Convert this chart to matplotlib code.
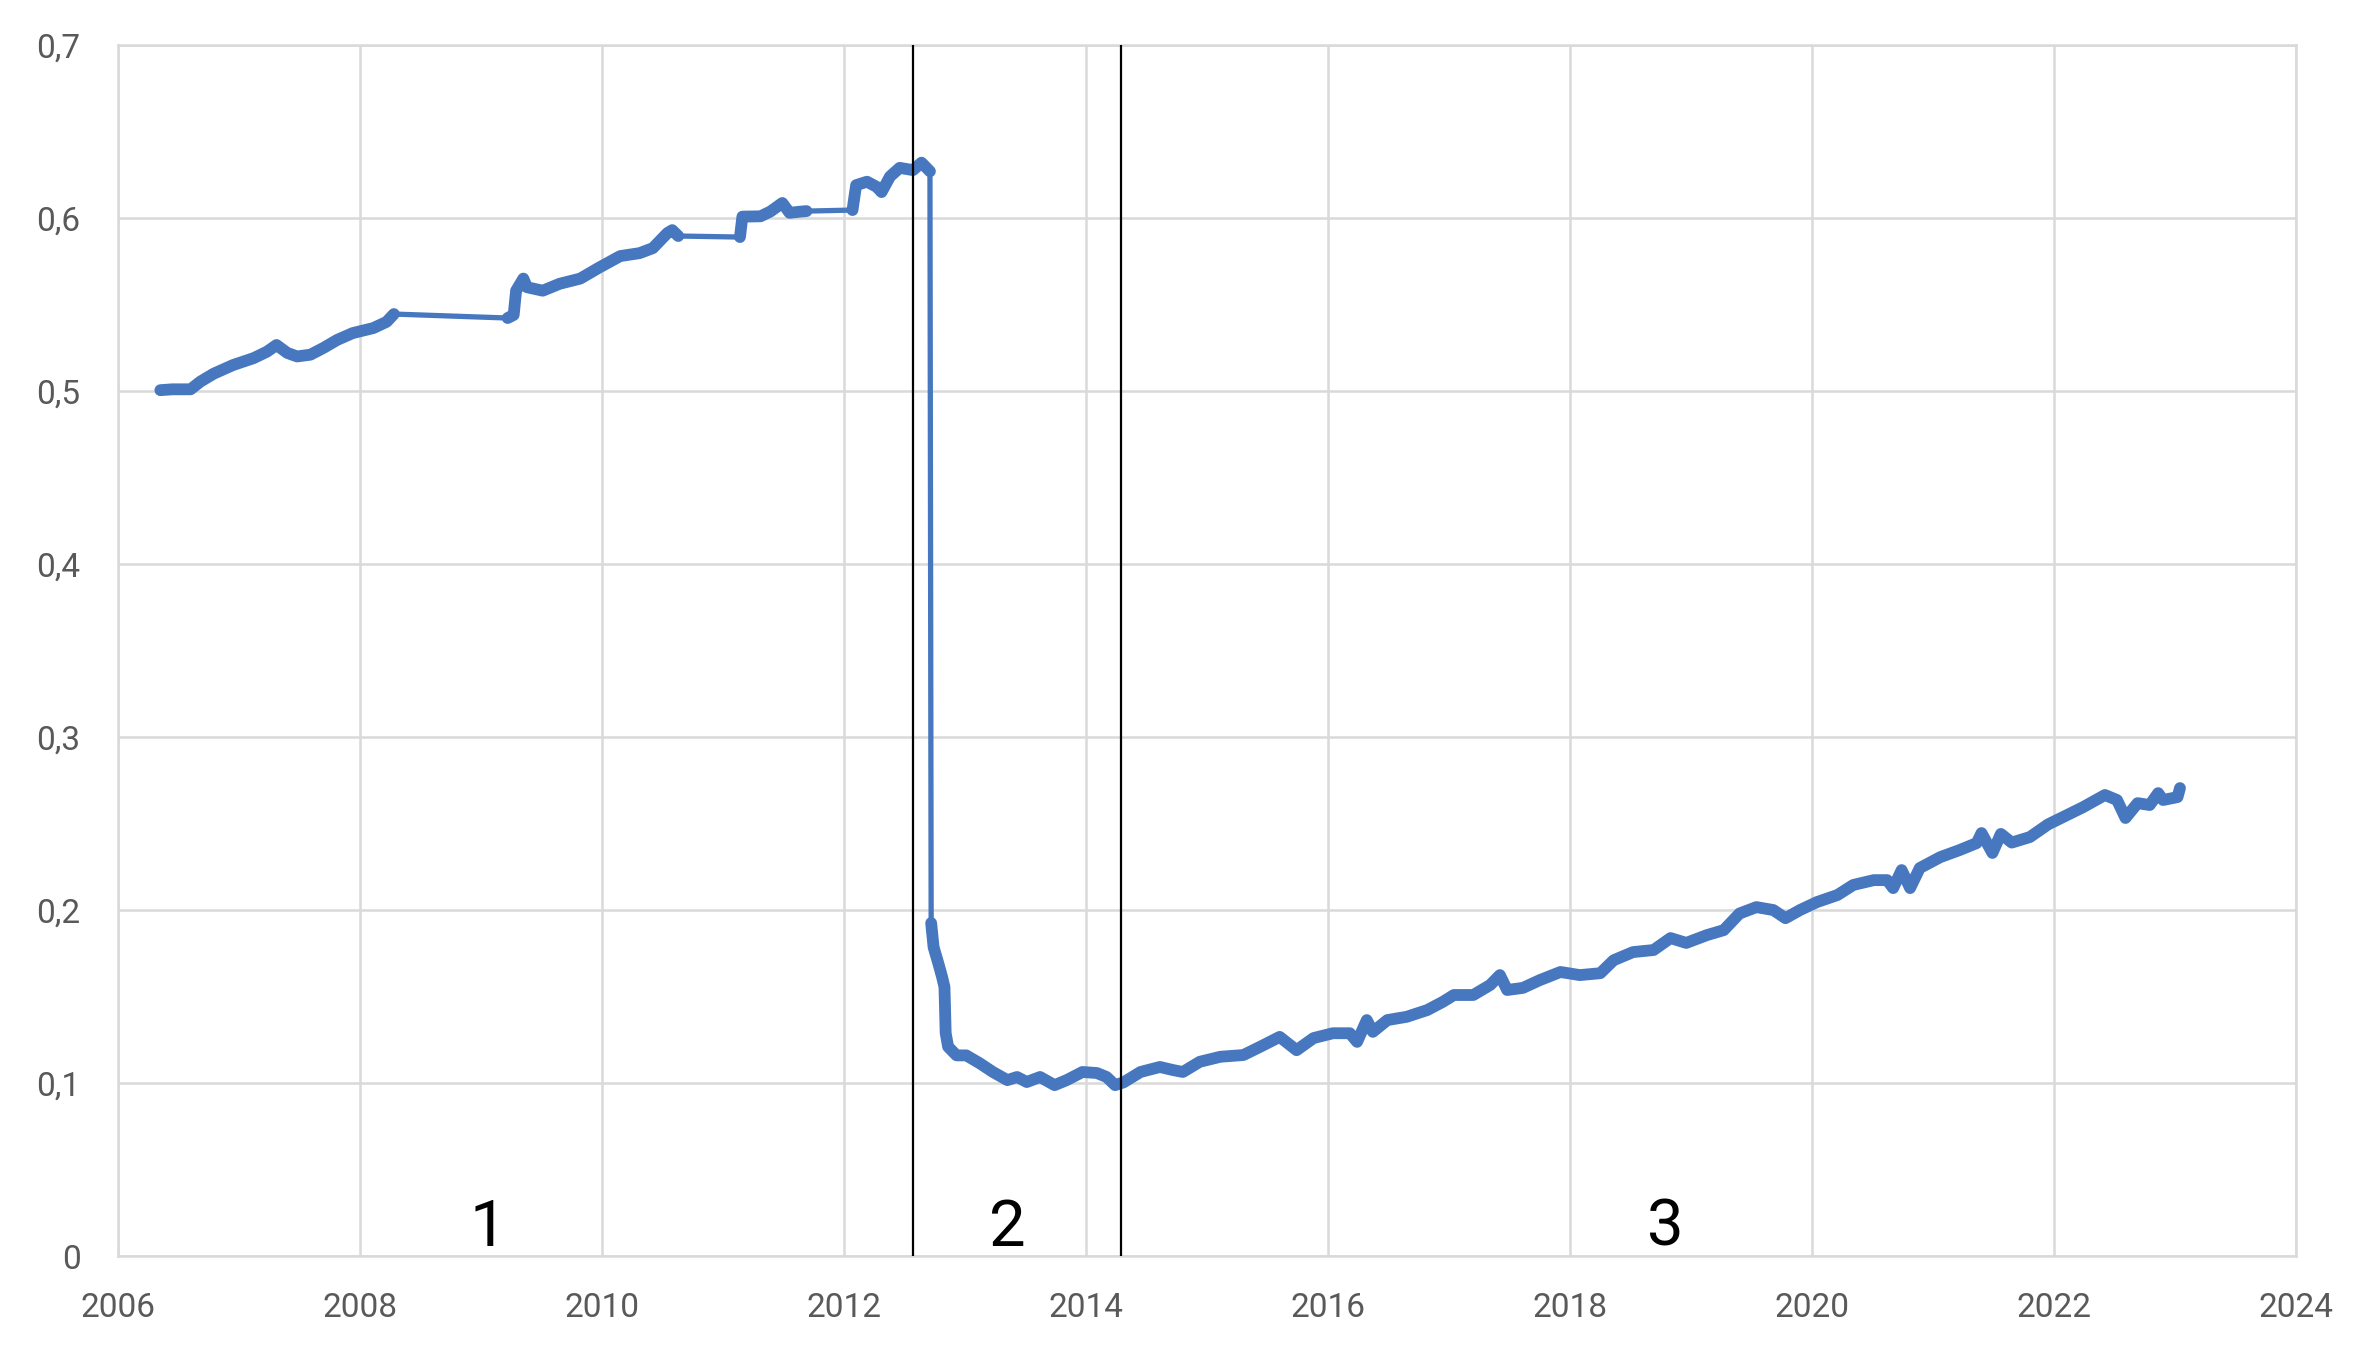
import numpy as np
import matplotlib.pyplot as plt

# ratio series (decimal years)
years = [
    2006.35, 2006.45, 2006.60, 2006.68, 2006.79, 2006.95, 2007.12, 2007.23,
    2007.31, 2007.40, 2007.48, 2007.59, 2007.70, 2007.81, 2007.94, 2008.11,
    2008.22, 2008.28, 2009.22, 2009.27, 2009.29, 2009.35, 2009.38, 2009.51,
    2009.65, 2009.82, 2009.98, 2010.15, 2010.31, 2010.42, 2010.54, 2010.58,
    2010.63, 2011.14, 2011.16, 2011.31, 2011.39, 2011.49, 2011.55, 2011.64,
    2011.69, 2012.07, 2012.10, 2012.19, 2012.27, 2012.31, 2012.38, 2012.46,
    2012.57, 2012.64, 2012.71, 2012.72, 2012.74, 2012.78, 2012.81, 2012.83,
    2012.84, 2012.86, 2012.93, 2013.01, 2013.12, 2013.23, 2013.35, 2013.43,
    2013.51, 2013.62, 2013.74, 2013.84, 2013.97, 2014.09, 2014.17, 2014.24,
    2014.31, 2014.45, 2014.61, 2014.72, 2014.80, 2014.94, 2015.11, 2015.30,
    2015.44, 2015.60, 2015.74, 2015.88, 2016.04, 2016.18, 2016.24, 2016.32,
    2016.37, 2016.49, 2016.65, 2016.82, 2016.95, 2017.04, 2017.20, 2017.34,
    2017.42, 2017.48, 2017.61, 2017.75, 2017.92, 2018.08, 2018.25, 2018.36,
    2018.52, 2018.69, 2018.83, 2018.96, 2019.13, 2019.27, 2019.40, 2019.54,
    2019.68, 2019.78, 2019.90, 2020.04, 2020.21, 2020.34, 2020.51, 2020.62,
    2020.67, 2020.74, 2020.81, 2020.89, 2021.06, 2021.22, 2021.36, 2021.40,
    2021.49, 2021.56, 2021.65, 2021.80, 2021.95, 2022.11, 2022.24, 2022.42,
    2022.52, 2022.59, 2022.69, 2022.79, 2022.86, 2022.90, 2023.02, 2023.04,
]
values = [
    0.5005, 0.5010, 0.5010, 0.5054, 0.5100, 0.5150, 0.5190, 0.5227,
    0.5266, 0.5220, 0.5200, 0.5210, 0.5250, 0.5295, 0.5335, 0.5364,
    0.5400, 0.5445, 0.5422, 0.5440, 0.5580, 0.5650, 0.5600, 0.5580,
    0.5620, 0.5650, 0.5715, 0.5780, 0.5797, 0.5826, 0.5913, 0.5930,
    0.5896, 0.5890, 0.6008, 0.6010, 0.6037, 0.6087, 0.6030, 0.6037,
    0.6040, 0.6046, 0.6190, 0.6210, 0.6180, 0.6150, 0.6240, 0.6290,
    0.6277, 0.6320, 0.6270, 0.1925, 0.1786, 0.1690, 0.1614, 0.1555,
    0.1289, 0.1210, 0.1160, 0.1160, 0.1115, 0.1064, 0.1017, 0.1035,
    0.1006, 0.1035, 0.0988, 0.1017, 0.1064, 0.1058, 0.1035, 0.0988,
    0.1004, 0.1064, 0.1093, 0.1075, 0.1064, 0.1123, 0.1152, 0.1162,
    0.1210, 0.1267, 0.1190, 0.1260, 0.1288, 0.1288, 0.1238, 0.1364,
    0.1296, 0.1364, 0.1383, 0.1422, 0.1470, 0.1509, 0.1509, 0.1567,
    0.1624, 0.1538, 0.1550, 0.1595, 0.1642, 0.1624, 0.1635, 0.1710,
    0.1757, 0.1769, 0.1838, 0.1810, 0.1855, 0.1884, 0.1980, 0.2017,
    0.2000, 0.1953, 0.2000, 0.2046, 0.2087, 0.2145, 0.2173, 0.2173,
    0.2127, 0.2231, 0.2127, 0.2243, 0.2306, 0.2347, 0.2387, 0.2445,
    0.2330, 0.2440, 0.2390, 0.2422, 0.2495, 0.2550, 0.2595, 0.2665,
    0.2636, 0.2532, 0.2618, 0.2607, 0.2676, 0.2636, 0.2653, 0.2705,
]

period_breaks = [2012.57, 2014.29]
period_labels = ["1", "2", "3"]
period_label_x = [2009.06, 2013.35, 2018.79]

yticks = [0, 0.1, 0.2, 0.3, 0.4, 0.5, 0.6, 0.7]
xticks = list(range(2006, 2025, 2))

blue = "#4677bf"
grid_c = "#d9d9d9"

fig = plt.figure(figsize=(23.55, 13.48), dpi=100)
ax = fig.add_axes([0.0501, 0.0682, 0.9249, 0.8984])

x = np.array(years)
y = np.array(values)

# flat gaps and the big drop are drawn thin, the noisy daily runs thick
dx = np.diff(x)
dy = np.abs(np.diff(y))
thin = (dx > 0.25) | (dy > 0.03)
start = 0
for i in range(len(dx)):
    if thin[i]:
        if i > start:
            ax.plot(x[start:i + 1], y[start:i + 1], color=blue, lw=8.5,
                    solid_joinstyle="round", solid_capstyle="round", zorder=3)
        ax.plot(x[i:i + 2], y[i:i + 2], color=blue, lw=3.8,
                solid_capstyle="round", zorder=3)
        start = i + 1
ax.plot(x[start:], y[start:], color=blue, lw=8.5,
        solid_joinstyle="round", solid_capstyle="round", zorder=3)

for b in period_breaks:
    ax.axvline(b, color="black", lw=1.6, zorder=4)

for lab, lx in zip(period_labels, period_label_x):
    ax.text(lx, 0.006, lab, ha="center", va="baseline", fontsize=47,
            family="Roboto", color="black", zorder=5)

ax.set_xlim(2006, 2024)
ax.set_ylim(0, 0.7)
ax.set_xticks(xticks)
ax.set_yticks(yticks)
ax.set_yticklabels([("%g" % v).replace(".", ",") for v in yticks])
ax.grid(True, color=grid_c, lw=1.8, zorder=0)
ax.set_axisbelow(True)
for s in ax.spines.values():
    s.set_color(grid_c)
    s.set_linewidth(1.8)
ax.tick_params(length=0, labelsize=24, labelcolor="#595959")
ax.tick_params(axis="y", pad=27)
ax.tick_params(axis="x", pad=26)
for t in ax.get_xticklabels() + ax.get_yticklabels():
    t.set_family("Roboto")

fig.savefig("out.png", dpi=100)
